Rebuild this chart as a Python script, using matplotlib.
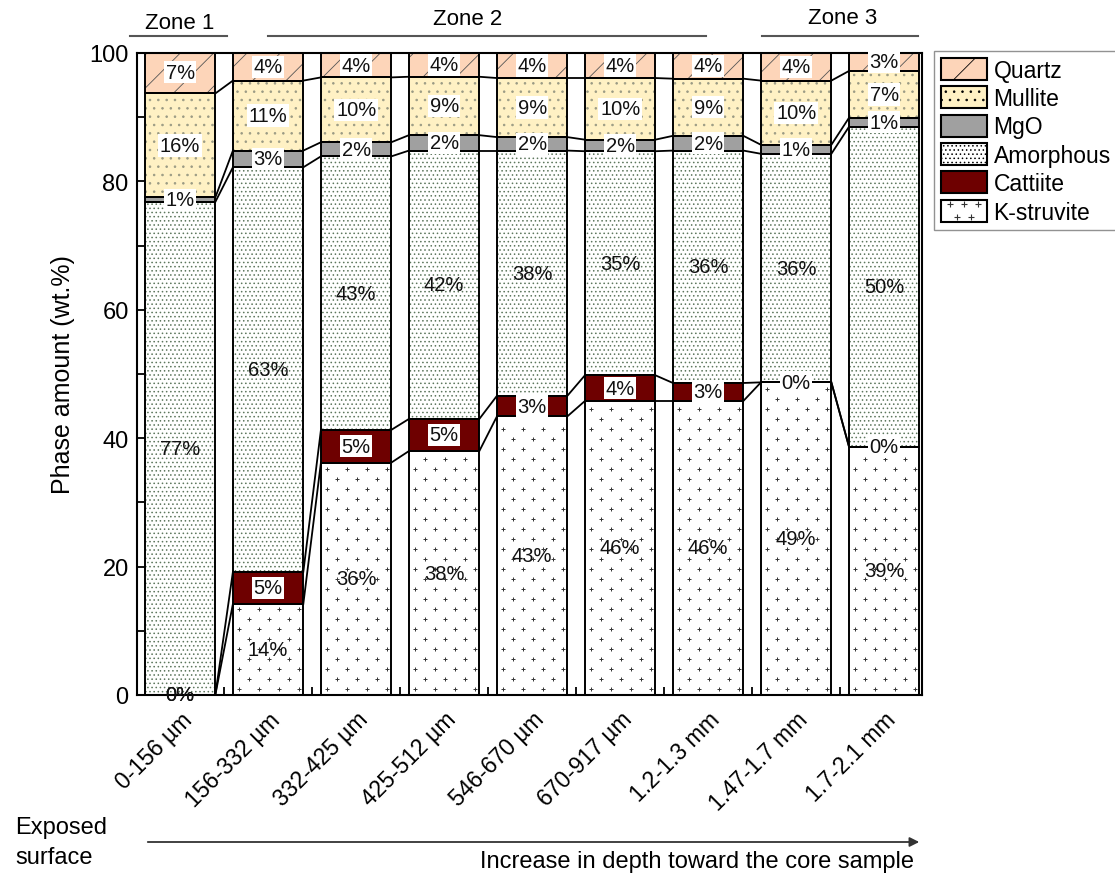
import numpy as np
import matplotlib
matplotlib.use("Agg")
import matplotlib.pyplot as plt
from matplotlib.patches import Patch, Rectangle, FancyArrowPatch
from matplotlib.lines import Line2D
from matplotlib.legend_handler import HandlerBase
import matplotlib.transforms as mtransforms

plt.rcParams["font.family"] = ["Liberation Sans", "DejaVu Sans"]
plt.rcParams["hatch.linewidth"] = 0.6

# depth intervals, from the exposed surface toward the core
depths = ["0-156 µm", "156-332 µm", "332-425 µm", "425-512 µm", "546-670 µm",
          "670-917 µm", "1.2-1.3 mm", "1.47-1.7 mm", "1.7-2.1 mm"]

# phase amounts (wt.%), stacked bottom to top
k_struvite = [0.0, 14.2, 36.2, 38.0, 43.4, 45.8, 45.8, 48.7, 38.7]
cattiite = [0.0, 5.0, 5.1, 5.0, 3.2, 4.0, 2.8, 0.0, 0.0]
amorphous = [76.8, 63.0, 42.6, 41.8, 38.2, 34.9, 36.2, 35.6, 49.8]
mgo = [0.7, 2.6, 2.2, 2.4, 2.1, 1.8, 2.3, 1.4, 1.4]
mullite = [16.2, 10.9, 10.1, 9.1, 9.2, 9.6, 8.9, 10.0, 7.3]
quartz = [6.6, 4.3, 3.8, 3.7, 3.9, 3.9, 4.0, 4.3, 2.8]

zones = ["Zone 1", "Zone 2", "Zone 3"]
zone_spans = [(-0.57, 0.53), (1.0, 5.98), (6.61, 8.38)]
zone_text_x = [0.0, 3.27, 7.53]
zone_text_y = [1.048, 1.053, 1.056]

phases = ["K-struvite", "Cattiite", "Amorphous", "MgO", "Mullite", "Quartz"]
values = [k_struvite, cattiite, amorphous, mgo, mullite, quartz]

# face colour, hatch, hatch colour
styles = {
    "K-struvite": ("white", None, None),
    "Cattiite": ("#6e0000", None, None),
    "Amorphous": ("white", "....", "#5d775d"),
    "MgO": ("#a0a0a0", None, None),
    "Mullite": ("#fff1c4", "..", "#9a9a84"),
    "Quartz": ("#fdd5b9", "/", "#555555"),
}
boxed = {"Cattiite", "MgO", "Mullite", "Quartz"}

W = 1115
H = 879
fig = plt.figure(figsize=(W / 100, H / 100), dpi=100)
ax = fig.add_axes([137 / W, 1 - 696 / H, (922 - 137) / W, (696 - 54) / H])

x = np.arange(len(depths))
width = 0.8
bottom = np.zeros(len(depths))
levels = [bottom.copy()]

for name, vals in zip(phases, values):
    vals = np.array(vals, dtype=float)
    face, hatch, hcol = styles[name]
    if hatch:
        ax.bar(x, vals, width, bottom=bottom, color=face, hatch=hatch,
               edgecolor=hcol, linewidth=0, zorder=2)
    else:
        ax.bar(x, vals, width, bottom=bottom, color=face, linewidth=0, zorder=2)
    ax.bar(x, vals, width, bottom=bottom, fill=False, edgecolor="black",
           linewidth=1.4, zorder=3)

    if name == "K-struvite":
        # small crosses as fill texture
        dy, dx = 1.56, 0.227
        for i, h in enumerate(vals):
            rows = np.arange(dy * 0.6, h - dy * 0.3, dy)
            for j, yy in enumerate(rows):
                off = (j % 2) * dx / 2
                xs = np.arange(x[i] - width / 2 + dx * 0.3 + off, x[i] + width / 2 - 0.03, dx)
                ax.scatter(xs, np.full_like(xs, yy), marker="+", s=12,
                           linewidths=0.7, color="#333333", zorder=2.5)

    for i, v in enumerate(vals):
        yc = bottom[i] + v / 2
        kw = {}
        if name in boxed and yc > 0.5:
            kw["bbox"] = dict(boxstyle="square,pad=0.08", fc="white", ec="none")
        ax.text(x[i], yc, f"{v:.0f}%", ha="center", va="center", fontsize=14.5,
                color="#111111", zorder=5, clip_on=False, **kw)

    bottom = bottom + vals
    levels.append(bottom.copy())

# lines joining each phase boundary between neighbouring bars
for lev in levels[1:]:
    for i in range(len(depths) - 1):
        ax.plot([x[i] + width / 2, x[i + 1] - width / 2], [lev[i], lev[i + 1]],
                color="black", lw=1.3, zorder=3)

ax.set_xlim(-0.49, 8.43)
ax.set_ylim(0, 100)
ax.set_yticks(np.arange(0, 101, 20))
ax.set_yticks(np.arange(10, 100, 20), minor=True)
ax.set_xticks(x)
ax.set_xticks(x[:-1] + 0.5, minor=True)
ax.set_xticklabels(depths, rotation=45, ha="right", va="top",
                   rotation_mode="anchor", fontsize=16.5)
shift = mtransforms.ScaledTranslation(0.32, 0, fig.dpi_scale_trans)
for lbl in ax.get_xticklabels():
    lbl.set_transform(lbl.get_transform() + shift)
ax.tick_params(axis="y", which="major", direction="in", length=8, width=1.3, labelsize=17, pad=6)
ax.tick_params(axis="y", which="minor", direction="in", length=5, width=1.3)
ax.tick_params(axis="x", which="major", length=0, pad=9)
ax.tick_params(axis="x", which="minor", direction="in", length=6, width=1.3)
for s in ax.spines.values():
    s.set_linewidth(1.5)
ax.set_ylabel("Phase amount (wt.%)", fontsize=18, labelpad=10)

# zone markers above the bars
trans = mtransforms.blended_transform_factory(ax.transData, ax.transAxes)
for label, (x0, x1), tx, ty in zip(zones, zone_spans, zone_text_x, zone_text_y):
    ax.plot([x0, x1], [1.0265, 1.0265], transform=trans, color="#555555",
            lw=1.5, clip_on=False)
    ax.text(tx, ty, label, transform=trans, ha="center", va="center", fontsize=16)


class CrossHandler(HandlerBase):
    def create_artists(self, legend, orig_handle, xdescent, ydescent, width,
                       height, fontsize, trans):
        rect = Rectangle((-xdescent, -ydescent), width, height, fc="white",
                         ec="black", lw=1.5, transform=trans)
        px = np.array([0.2, 0.5, 0.8, 0.35, 0.65]) * width - xdescent
        py = np.array([0.8, 0.8, 0.8, 0.2, 0.2]) * height - ydescent
        crosses = Line2D(px, py, ls="none", marker="+", ms=4, mew=0.8,
                         color="#333333", transform=trans)
        return [rect, crosses]


handles = []
labels = []
for name in reversed(phases):
    face, hatch, hcol = styles[name]
    if name == "K-struvite":
        h = Patch(label=name)
    else:
        h = Patch(facecolor=face, hatch=hatch, edgecolor="black", lw=1.5)
    handles.append(h)
    labels.append(name)

leg = fig.legend(handles, labels, loc="upper left", bbox_to_anchor=(934 / W, 1 - 52 / H),
                 fontsize=16.5, frameon=True, fancybox=False, edgecolor="#777777",
                 handlelength=2.0, handleheight=1.1, labelspacing=0.2,
                 borderpad=0.3, handletextpad=0.3, borderaxespad=0,
                 handler_map={handles[-1]: CrossHandler()})

fig.text(15 / W, 1 - 843 / H, "Exposed\nsurface", ha="left", va="center",
         fontsize=17, linespacing=1.5)
fig.add_artist(FancyArrowPatch(
    (145 / W, 1 - 843 / H), (922 / W, 1 - 843 / H), transform=fig.transFigure,
    arrowstyle="-|>", mutation_scale=14, color="#333333", lw=1.3))
fig.text(914 / W, 1 - 862 / H, "Increase in depth toward the core sample",
         ha="right", va="center", fontsize=17)

fig.savefig("out.png", dpi=100)
